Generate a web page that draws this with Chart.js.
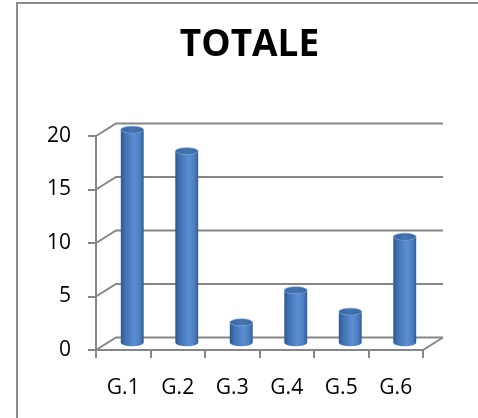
<!DOCTYPE html>
<html>
<head>
<meta charset="utf-8">
<script src="https://cdn.jsdelivr.net/npm/chart.js@4/dist/chart.umd.min.js"></script>
<style>
  html, body { margin: 0; padding: 0; background: #fff; }
  #wrap { width: 478px; height: 418px; }
</style>
</head>
<body>
<div id="wrap"><canvas id="totaleChart"></canvas></div>
<script>
  // data
  const categories = ['G.1', 'G.2', 'G.3', 'G.4', 'G.5', 'G.6'];
  const totals = [20, 18, 2, 5, 3, 10];
  const yTicks = [0, 5, 10, 15, 20];

  // 3D depth of the walls (pixels)
  const DX = 20, DY = -12.5;
  const GRID = '#868686';

  const frame3d = {
    id: 'frame3d',
    beforeDraw(chart) {
      const ctx = chart.ctx;
      ctx.save();
      ctx.strokeStyle = '#8a8a8a';
      ctx.lineWidth = 2;
      ctx.strokeRect(17, 3, 700, 700);
      ctx.restore();
    },
    beforeDatasetsDraw(chart) {
      const ctx = chart.ctx;
      const y = chart.scales.y;
      const { left, right, bottom } = chart.chartArea;
      ctx.save();
      ctx.strokeStyle = GRID;
      ctx.lineWidth = 2;
      yTicks.forEach(v => {
        const py = y.getPixelForValue(v);
        ctx.beginPath();
        ctx.moveTo(left, py);
        ctx.lineTo(left + DX, py + DY);
        ctx.lineTo(right + DX, py + DY);
        ctx.stroke();
      });
      // floor right edge
      ctx.beginPath();
      ctx.moveTo(right, bottom);
      ctx.lineTo(right + DX, bottom + DY);
      ctx.stroke();
      ctx.restore();
    },
    afterDatasetsDraw(chart) {
      const ctx = chart.ctx;
      const meta = chart.getDatasetMeta(0);
      ctx.save();
      meta.data.forEach(bar => {
        const r = bar.width / 2;
        const ry = 3.5;
        const cx = bar.x + DX / 2 - 1;
        const top = bar.y + DY / 2;
        const base = bar.base + DY / 2;
        const g = ctx.createLinearGradient(cx - r, 0, cx + r, 0);
        g.addColorStop(0, '#2d5890');
        g.addColorStop(0.2, '#4273b4');
        g.addColorStop(0.6, '#5b8fd1');
        g.addColorStop(0.85, '#4a7dbf');
        g.addColorStop(1, '#2f5b93');
        ctx.beginPath();
        ctx.moveTo(cx - r, top);
        ctx.lineTo(cx - r, base);
        ctx.ellipse(cx, base, r, ry, 0, Math.PI, 0, true);
        ctx.lineTo(cx + r, top);
        ctx.ellipse(cx, top, r, ry, 0, 0, Math.PI, false);
        ctx.closePath();
        ctx.fillStyle = g;
        ctx.fill();
        // top cap
        const gc = ctx.createLinearGradient(cx - r, 0, cx + r, 0);
        gc.addColorStop(0, '#3a66a0');
        gc.addColorStop(0.5, '#4574b0');
        gc.addColorStop(1, '#3b68a2');
        ctx.beginPath();
        ctx.ellipse(cx, top, r, ry, 0, 0, Math.PI * 2);
        ctx.fillStyle = gc;
        ctx.fill();
        ctx.strokeStyle = 'rgba(110,150,210,0.7)';
        ctx.lineWidth = 0.8;
        ctx.stroke();
      });
      ctx.restore();
    }
  };

  const ctx = document.getElementById('totaleChart').getContext('2d');
  const totaleChart = new Chart(ctx, {
    type: 'bar',
    data: {
      labels: categories,
      datasets: [{
        label: 'TOTALE',
        data: totals,
        backgroundColor: 'rgba(0,0,0,0)',
        borderWidth: 0,
        categoryPercentage: 1,
        barPercentage: 0.42
      }]
    },
    options: {
      responsive: true,
      maintainAspectRatio: false,
      animation: false,
      layout: { padding: { left: 21, right: 0, top: 0, bottom: 0 } },
      plugins: {
        legend: { display: false },
        tooltip: { enabled: false },
        title: {
          display: true,
          text: 'TOTALE',
          color: '#000',
          font: { family: 'Open Sans', size: 37, weight: 'bold', lineHeight: 1.2 },
          padding: { top: 23, bottom: 68.6 }
        }
      },
      scales: {
        x: {
          grid: { drawOnChartArea: false, color: GRID, lineWidth: 2, tickLength: 8, offset: true },
          border: { color: GRID, width: 2 },
          ticks: { color: '#000', padding: 17, font: { family: 'Open Sans', size: 21 } },
          afterFit(s) { s.height = 68; }
        },
        y: {
          min: 0,
          max: 20,
          grid: { drawOnChartArea: false, color: GRID, lineWidth: 2, tickLength: 8 },
          border: { color: GRID, width: 2 },
          ticks: { stepSize: 5, color: '#000', padding: 17, font: { family: 'Open Sans', size: 21 } },
          afterFit(s) { s.width = 75; }
        },
        yR: {
          type: 'linear',
          position: 'right',
          grid: { display: false, drawTicks: false },
          border: { display: false },
          ticks: { display: false },
          afterFit(s) { s.width = 55; }
        }
      }
    },
    plugins: [frame3d]
  });
</script>
</body>
</html>
